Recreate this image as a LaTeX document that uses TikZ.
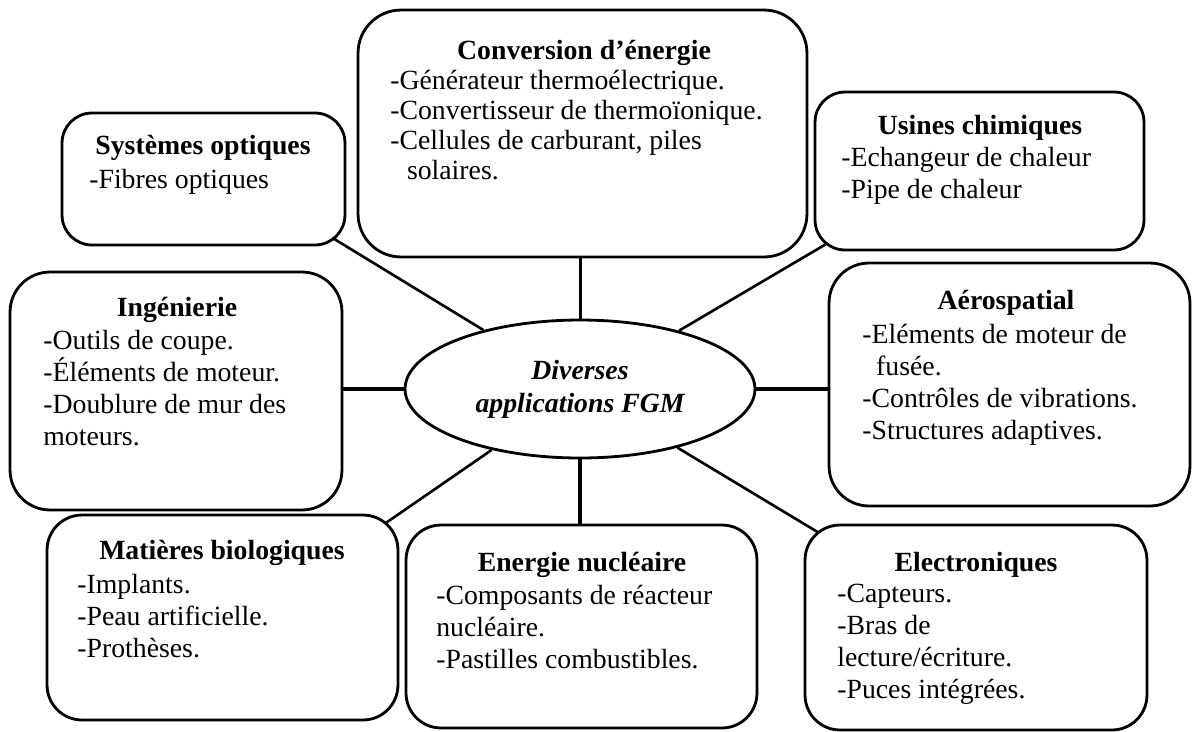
\documentclass[tikz,border=0pt]{standalone}
\usepackage{fontspec}
\setmainfont{Liberation Serif}
\usetikzlibrary{shapes.geometric,backgrounds}

\begin{document}
\begin{tikzpicture}[x=0.02cm,y=-0.02cm]
  \tikzset{appbox/.style={draw,line width=1.6pt,fill=white,rounded corners=0.7cm,inner sep=0pt},
    head/.style={font=\fontsize{15.8}{18.2}\selectfont\bfseries,inner sep=0pt},
    items/.style={font=\fontsize{15.8}{18.2}\selectfont,align=left,anchor=north west,inner sep=0pt},
    spoke/.style={line width=1.5pt,shorten <=-0.5cm},
    hub/.style={draw,ellipse,line width=1.6pt,fill=white,minimum width=7cm,minimum height=2.76cm,inner sep=0pt,align=center,font=\fontsize{15.8}{18.8}\selectfont\bfseries\itshape}}
  \useasboundingbox (0,0) rectangle (1193,731);
  % boxes
  \node[appbox,rounded corners=0.86cm,minimum width=8.98cm,minimum height=4.94cm] (conv) at (582.5,133.5) {};
  \node[appbox,rounded corners=0.6cm,minimum width=5.66cm,minimum height=2.64cm] (opt) at (203.5,179) {};
  \node[appbox,rounded corners=0.6cm,minimum width=6.58cm,minimum height=3.16cm] (usi) at (979.5,171) {};
  \node[appbox,rounded corners=0.8cm,minimum width=6.64cm,minimum height=4.76cm] (ing) at (176,391) {};
  \node[appbox,rounded corners=0.8cm,minimum width=7.22cm,minimum height=4.86cm] (aero) at (1009.5,384.5) {};
  \node[appbox,minimum width=7.02cm,minimum height=4.10cm] (bio) at (222.5,617.5) {};
  \node[appbox,minimum width=7.02cm,minimum height=4.06cm] (nucl) at (581.5,626.5) {};
  \node[appbox,minimum width=6.84cm,minimum height=4.10cm] (elec) at (976,627.5) {};
  \node[hub] (hub) at (580,389) {Diverses\\applications FGM};
  % titles and lists
  \node[head] (conv-h) at (584,53) {Conversion d’énergie};
  \node[items,font=\fontsize{15.8}{17}\selectfont] (conv-l) at (390,70) {-Générateur thermoélectrique.\\-Convertisseur de thermoïonique.\\-Cellules de carburant, piles\\\hspace*{0.6em}solaires.};
  \node[head] (opt-h) at (203,148) {Systèmes optiques};
  \node[items] (opt-l) at (89,169) {-Fibres optiques};
  \node[head] (usi-h) at (980,128) {Usines chimiques};
  \node[items] (usi-l) at (841,147) {-Echangeur de chaleur\\-Pipe de chaleur};
  \node[head] (ing-h) at (177,310) {Ingénierie};
  \node[items] (ing-l) at (43,330) {-Outils de coupe.\\-Éléments de moteur.\\-Doublure de mur des\\moteurs.};
  \node[head] (aero-h) at (1006,303) {Aérospatial};
  \node[items] (aero-l) at (862,324) {-Eléments de moteur de\\\hspace*{0.5em}fusée.\\-Contrôles de vibrations.\\-Structures adaptives.};
  \node[head] (bio-h) at (222,553) {Matières biologiques};
  \node[items] (bio-l) at (77,574) {-Implants.\\-Peau artificielle.\\-Prothèses.};
  \node[head] (nucl-h) at (582,565) {Energie nucléaire};
  \node[items] (nucl-l) at (436,585) {-Composants de réacteur\\nucléaire.\\-Pastilles combustibles.};
  \node[head] (elec-h) at (976,565) {Electroniques};
  \node[items] (elec-l) at (837,584) {-Capteurs.\\-Bras de\\lecture/écriture.\\-Puces intégrées.};
  % connectors
  \begin{pgfonlayer}{background}
    \draw[spoke] (opt.south east) -- (hub);
    \draw[spoke] (usi.south west) -- (hub);
    \draw[spoke] (bio.north east) -- (hub);
    \draw[spoke] (elec.north west) -- (hub);
    \draw[line width=1.7pt] (conv.south -| hub.north) -- (hub.north);
    \draw[line width=2.8pt] (hub.south) -- (nucl.north -| hub.south);
    \draw[line width=2.3pt] (ing.east |- hub.west) -- (hub.west);
    \draw[line width=2.3pt] (hub.east) -- (aero.west |- hub.east);
  \end{pgfonlayer}
\end{tikzpicture}
\end{document}
